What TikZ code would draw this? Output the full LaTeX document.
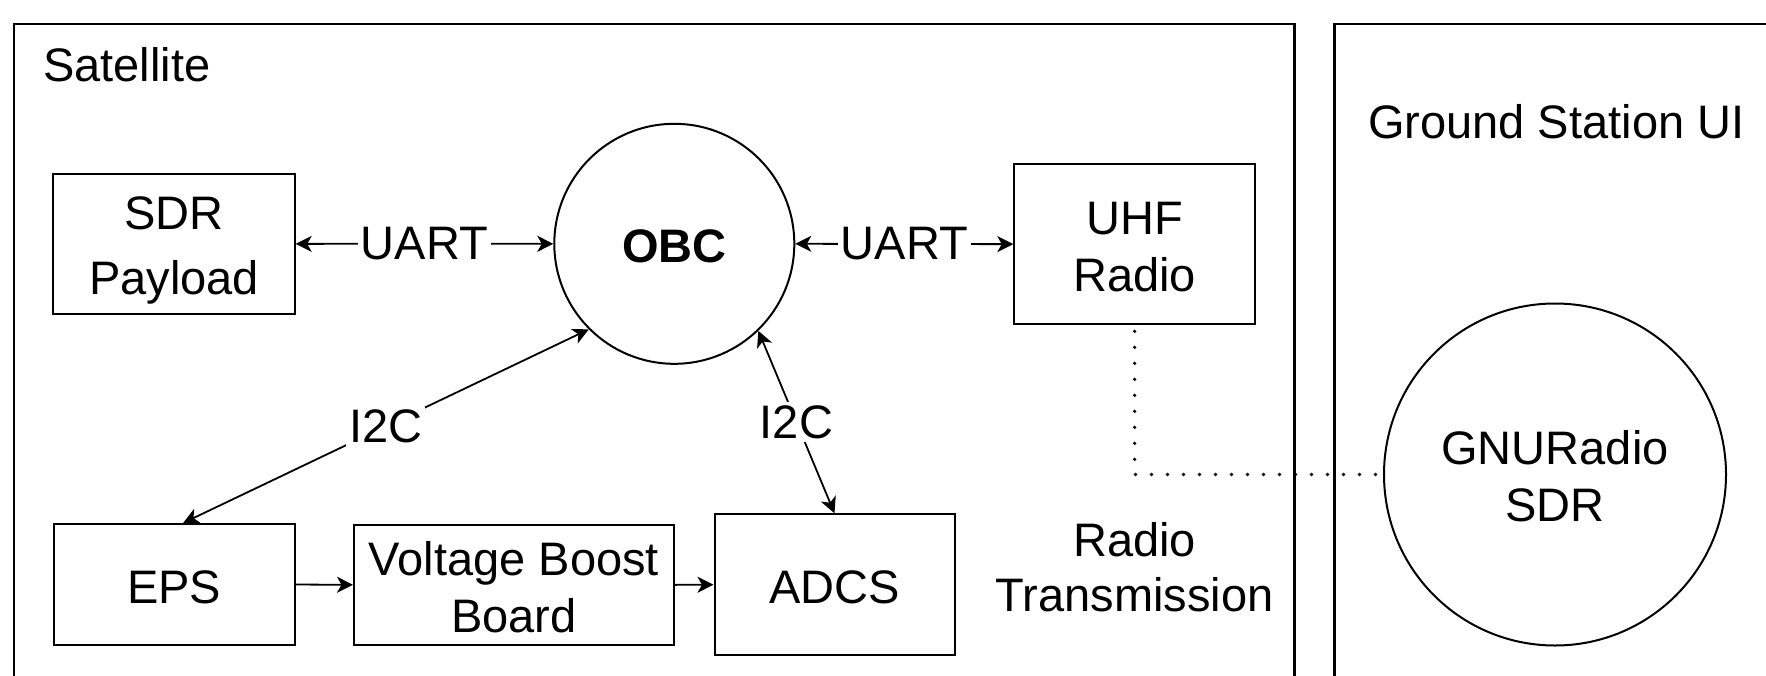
\documentclass[tikz,border=0pt]{standalone}
\usepackage{fontspec}
\setmainfont{Liberation Sans}
\usetikzlibrary{arrows.meta}
\newcommand\lnst{\rule[-9pt]{0pt}{55.5pt}}
\begin{document}
\begin{tikzpicture}[x=1pt,y=-1pt,
  every node/.style={font=\fontsize{47}{57}\selectfont, text=black},
  framebox/.style={draw=black, line width=2.2pt},
  box/.style={draw=black, line width=2pt, inner sep=0pt, align=center},
  circ/.style={draw=black, circle, line width=2pt, inner sep=0pt, align=center},
  tipsty/.tip={Stealth[length=16pt,width=16pt,inset=4.5pt]},
  biconn/.style={line width=1.8pt, tipsty-tipsty},
  oneconn/.style={line width=1.8pt, -tipsty},
  lbl/.style={fill=white, inner sep=3pt},
  dotline/.style={line width=3.6pt, line cap=round, dash pattern=on 0pt off 16pt, dash phase=10pt}
]
\useasboundingbox (0,0) rectangle (1766,675);
\begin{scope}
  \clip (0,0) rectangle (1766,675);
  \draw[framebox] (13.7,24) rectangle (1294.5,720);
  \draw[framebox] (1334.5,24) rectangle (1820,720);
\end{scope}

\node[anchor=base west, inner sep=0pt] (sattitle) at (43,81) {Satellite};
\node[anchor=base west, inner sep=0pt] (gstitle) at (1368,138) {Ground Station UI};

\node[box, minimum width=241.4pt, minimum height=140.3pt, font=\fontsize{47}{65}\selectfont] (sdr) at (174,243.85) {\lnst SDR\\\lnst Payload};
\node[circ, minimum size=240pt, font=\fontsize{47}{57}\selectfont\bfseries] (obc) at (674.3,243.8) {\lnst OBC};
\node[box, minimum width=240.7pt, minimum height=160.3pt] (uhf) at (1134.65,244.15) {\lnst UHF\\\lnst Radio};
\node[box, minimum width=241pt, minimum height=121pt] (eps) at (174.1,584.5) {\lnst EPS};
\node[box, minimum width=320pt, minimum height=120.3pt] (vbb) at (514,584.85) {\lnst Voltage Boost\\\lnst Board};
\node[box, minimum width=240pt, minimum height=140.7pt] (adcs) at (834.5,584.65) {\lnst ADCS};
\node[align=center, inner sep=0pt, font=\fontsize{47}{55.5}\selectfont] (rt) at (1134.5,567) {Radio\\Transmission};
\node[circ, minimum size=342pt] (gnu) at (1555,474.5) {\lnst GNURadio\\\lnst SDR};

\draw[biconn] (sdr.east) -- node[lbl]{UART} (obc.west);
\draw[biconn] (obc.east) -- node[lbl]{UART} (uhf.west);
\draw[biconn] ([xshift=9pt]eps.north) -- node[lbl]{I2C} (obc.225);
\draw[biconn] (obc.-46) -- node[lbl]{I2C} (adcs.north);
\draw[oneconn] (eps.east) -- (vbb.west);
\draw[oneconn] (vbb.east) -- (adcs.west);
\draw[dotline] (uhf.south) |- (gnu.west);
\end{tikzpicture}
\end{document}
